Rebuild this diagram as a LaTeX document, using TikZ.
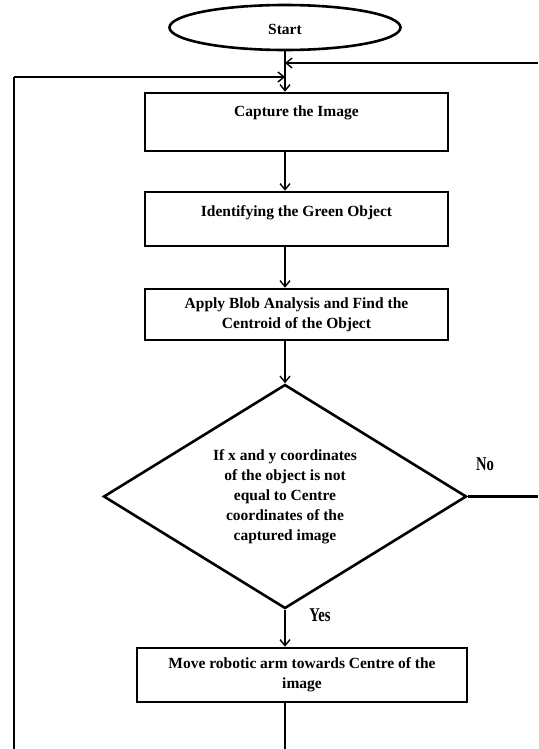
\documentclass[tikz,border=0pt]{standalone}
\usepackage{fontspec}
\usepackage{graphicx}
\setmainfont{Liberation Serif}
\usetikzlibrary{shapes.geometric,arrows.meta}
\begin{document}
\begin{tikzpicture}[x=1pt,y=-1pt,
  box/.style={draw,line width=2.6pt,minimum width=303pt,inner sep=0pt},
  lbl/.style={font=\fontsize{15.5}{20}\selectfont\bfseries,align=center,inner sep=0pt},
  conn/.style={line width=1.4pt},
  heavy/.style={line width=2.4pt},
  arr/.style={conn,-{Straight Barb[length=6pt,width=10pt,line width=1.4pt]}},
  yn/.style={font=\fontsize{19.5}{20}\selectfont\bfseries,inner sep=0pt}]
\useasboundingbox (0,0) rectangle (538,749);

% shapes
\node[draw,ellipse,line width=2.6pt,minimum width=231pt,minimum height=45pt,inner sep=0pt] (ell) at (285,27.5) {};
\node[lbl] (tstart) at (285,29) {Start};

\node[box,minimum height=58pt] (box1) at (296.5,122) {};
\node[lbl] (t1) at (296.5,113) {Capture the Image};

\node[box,minimum height=54pt] (box2) at (296.5,219) {};
\node[lbl] (t2) at (296.5,213) {Identifying the Green Object};

\node[box,minimum height=51pt] (box3) at (296.5,314.5) {};
\node[lbl] (t3) at (296.5,314.5) {Apply Blob Analysis and Find the\\Centroid of the Object};

\node[draw,diamond,line width=2.6pt,minimum width=363pt,minimum height=224pt,inner sep=0pt] (dia) at (285,496.5) {};
\node[lbl] (td) at (285,497) {If x and y coordinates\\of the object is not\\equal to Centre\\coordinates of the\\captured image};

\node[box,minimum width=330pt,minimum height=54pt] (box4) at (302,675) {};
\node[lbl] (t4) at (302,675) {Move robotic arm towards Centre of the\\image};

\node[yn] (no) at (485,464) {\scalebox{0.75}[1]{No}};
\node[yn] (yes) at (320,615) {\scalebox{0.75}[1]{Yes}};

% free ends
\coordinate (rt) at (538,63);
\coordinate (lt) at (14,77);
\coordinate (lb) at (14,749);
\coordinate (re) at (538,496.5);
\coordinate (bot) at (285,749);

% connectors
\draw[arr] (ell.south) -- (ell.south |- box1.north);
\draw[arr] (rt) -- (ell.south |- rt);
\draw[heavy] (lb) -- (lt);
\draw[arr] (lt) -- (ell.south |- lt);
\draw[arr] (ell.south |- box1.south) -- (ell.south |- box2.north);
\draw[arr] (ell.south |- box2.south) -- (ell.south |- box3.north);
\draw[arr] (ell.south |- box3.south) -- (dia.north);
\draw[arr] (dia.south) -- (dia.south |- box4.north);
\draw[heavy] (dia.east) -- (re);
\draw[heavy] (dia.south |- box4.south) -- (bot);
\end{tikzpicture}
\end{document}
